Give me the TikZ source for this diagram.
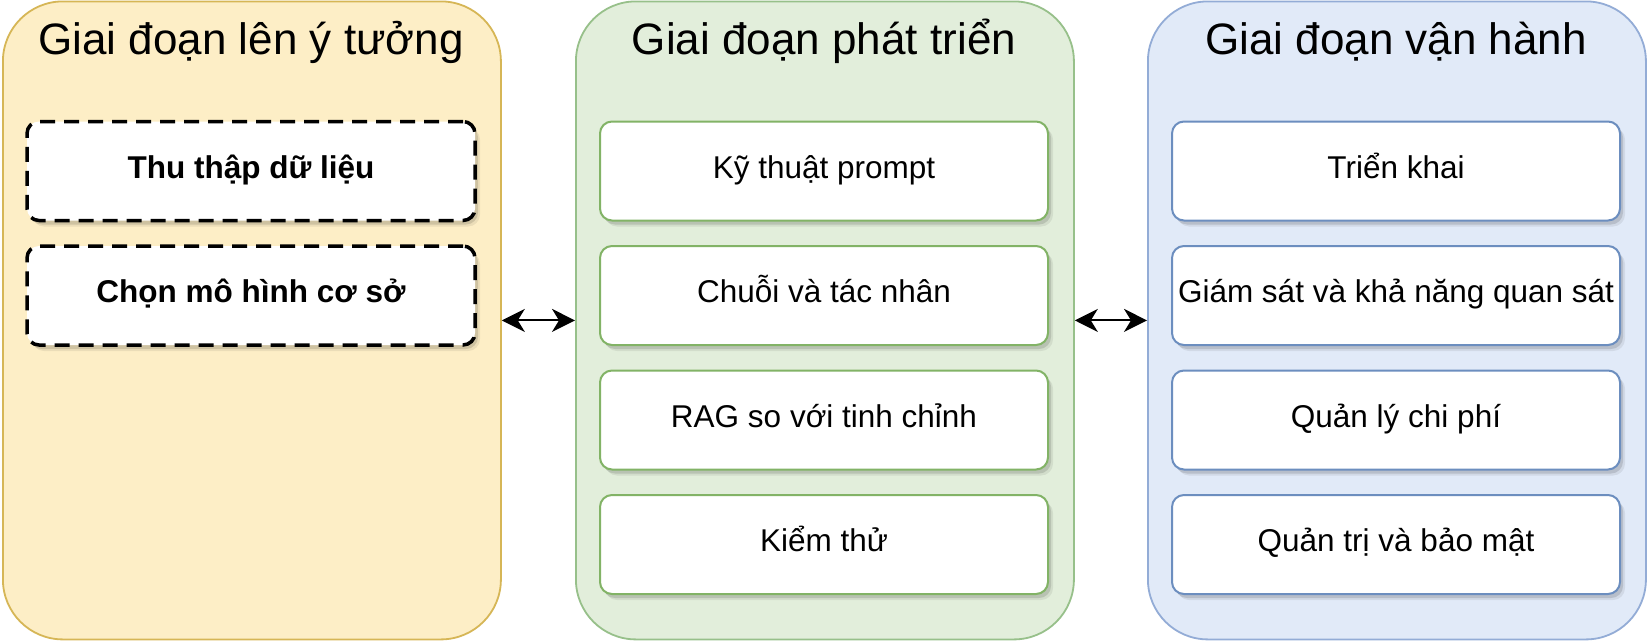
\documentclass[tikz,border=0pt]{standalone}
\usepackage{fontspec}
\setmainfont{Liberation Sans}
\usetikzlibrary{shadows,arrows.meta}
\definecolor{yfill}{HTML}{FDEEC6}
\definecolor{ydraw}{HTML}{D6B656}
\definecolor{gfill}{HTML}{E2EEDB}
\definecolor{gdraw}{HTML}{97C08A}
\definecolor{gbox}{HTML}{82B366}
\definecolor{bfill}{HTML}{E1EAF8}
\definecolor{bdraw}{HTML}{93ACD6}
\definecolor{bbox}{HTML}{6C8EBF}
\begin{document}
\begin{tikzpicture}[x=1pt,y=-1pt,
  panel/.style={rectangle, rounded corners=60pt, line width=1.8pt, minimum width=498pt, minimum height=638pt, anchor=north west, inner sep=0pt},
  paneltitle/.style={font=\fontsize{44}{50}\selectfont, anchor=base, inner sep=0pt},
  ibox/.style={rectangle, rounded corners=12pt, fill=white, line width=2pt, minimum width=448pt, minimum height=99pt, inner sep=0pt,
    text height=22pt, text depth=8pt, font=\fontsize{31.5}{36}\selectfont,
    drop shadow={shadow xshift=5pt, shadow yshift=-6pt, opacity=0.07, fill=black},
    drop shadow={shadow xshift=3pt, shadow yshift=-4pt, opacity=0.12, fill=black}},
  dbox/.style={ibox, draw=black, line width=3.5pt, dash pattern=on 15pt off 9pt, font=\fontsize{31.5}{36}\selectfont\bfseries},
  gib/.style={ibox, draw=gbox},
  bib/.style={ibox, draw=bbox},
  link/.style={line width=2pt, {Stealth[length=23pt, width=23pt, inset=7pt]}-{Stealth[length=23pt, width=23pt, inset=7pt]}}
]
\fill[white] (0,0) rectangle (1648,640);
\useasboundingbox (0,0) rectangle (1648,640);

% panels
\node[panel, fill=yfill, draw=ydraw] (p1) at (2,0.5) {};
\node[panel, fill=gfill, draw=gdraw] (p2) at (575,0.5) {};
\node[panel, fill=bfill, draw=bdraw] (p3) at (1147,0.5) {};

% titles
\node[paneltitle] (t1) at (251,54) {Giai đoạn lên ý tưởng};
\node[paneltitle] (t2) at (824,54) {Giai đoạn phát triển};
\node[paneltitle] (t3) at (1396,54) {Giai đoạn vận hành};

% ideation boxes
\node[dbox] (y1) at (251,171) {Thu thập dữ liệu};
\node[dbox] (y2) at (251,295.5) {Chọn mô hình cơ sở};

% development boxes
\node[gib] (g1) at (824,171) {Kỹ thuật prompt};
\node[gib] (g2) at (824,295.5) {Chuỗi và tác nhân};
\node[gib] (g3) at (824,420) {RAG so với tinh chỉnh};
\node[gib] (g4) at (824,544.5) {Kiểm thử};

% operation boxes
\node[bib] (b1) at (1396,171) {Triển khai};
\node[bib] (b2) at (1396,295.5) {Giám sát và khả năng quan sát};
\node[bib] (b3) at (1396,420) {Quản lý chi phí};
\node[bib] (b4) at (1396,544.5) {Quản trị và bảo mật};

% connectors
\draw[link] (p1.east) -- (p2.west);
\draw[link] (p2.east) -- (p3.west);
\end{tikzpicture}
\end{document}
